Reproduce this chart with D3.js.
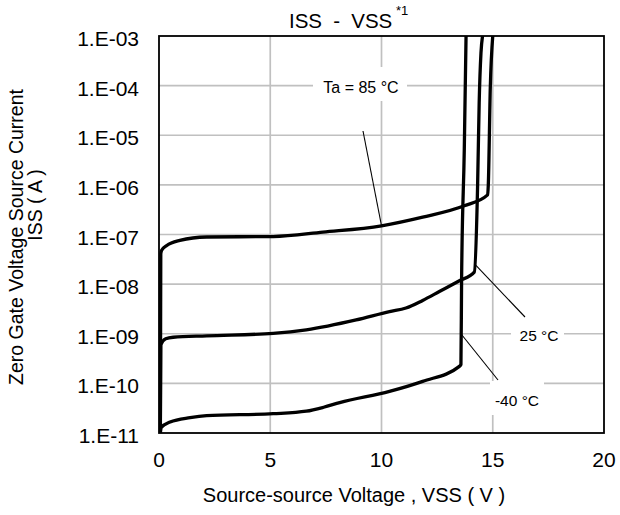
<!DOCTYPE html>
<html>
<head>
<meta charset="utf-8">
<script src="https://cdn.jsdelivr.net/npm/d3@7"></script>
<style>
  html, body { margin: 0; padding: 0; background: #fff; }
  svg { display: block; font-family: "Liberation Sans", Arial, sans-serif; }
</style>
</head>
<body>
<svg id="chart" width="620" height="515"></svg>
<script>
// ---- data ----
const xTicks = [0, 5, 10, 15, 20];
const yTicks = [1e-3, 1e-4, 1e-5, 1e-6, 1e-7, 1e-8, 1e-9, 1e-10, 1e-11];
const yTickLabels = ["1.E-03", "1.E-04", "1.E-05", "1.E-06", "1.E-07", "1.E-08", "1.E-09", "1.E-10", "1.E-11"];

const v85 = [0.06, 0.08, 0.12, 0.35, 0.94, 2.14, 5.13, 7.37, 10.0, 11.85, 13.72, 14.77, 14.8, 14.89, 15.0];
const i85 = [1e-11, 4.1e-8, 4.8e-8, 6.0e-8, 7.6e-8, 8.9e-8, 9.1e-8, 1.12e-7, 1.5e-7, 2.24e-7, 3.8e-7, 6.3e-7, 1.0e-6, 9.3e-5, 1e-3];

const v25 = [0.06, 0.08, 0.3, 0.64, 2.14, 5.13, 6.62, 8.86, 10.36, 11.1, 11.85, 12.6, 13.5, 14.17, 14.32, 14.39, 14.47, 14.54];
const i25 = [1e-11, 6.0e-10, 7.9e-10, 8.5e-10, 9.1e-10, 1.02e-9, 1.2e-9, 1.9e-9, 2.8e-9, 3.3e-9, 4.7e-9, 7.1e-9, 1.17e-8, 1.74e-8, 1.0e-6, 4.5e-5, 4.5e-4, 1e-3];

const v40 = [0.06, 0.1, 0.5, 1.4, 2.14, 5.13, 6.62, 7.4, 8.12, 10.36, 11.85, 13.5, 13.57, 13.6, 13.72, 13.8];
const i40 = [1e-11, 1.29e-11, 1.66e-11, 2.04e-11, 2.24e-11, 2.45e-11, 2.75e-11, 3.3e-11, 4.1e-11, 6.9e-11, 1.1e-10, 2.2e-10, 2.4e-10, 1.26e-8, 5.0e-6, 1e-3];

const seriesNames = ["Ta = 85 °C", "25 °C", "-40 °C"];

// ---- layout ----
const svg = d3.select("#chart");
const L = 159, R = 604, T = 36, B = 433;
const x = d3.scaleLinear().domain([0, 20]).range([L, R]);
const y = d3.scaleLog().domain([1e-11, 1e-3]).range([B, T]);

// gridlines
svg.append("g").selectAll("line.gx")
  .data(xTicks.slice(1, -1)).join("line")
  .attr("x1", d => x(d)).attr("x2", d => x(d))
  .attr("y1", T).attr("y2", B)
  .attr("stroke", "#c0c0c0").attr("stroke-width", 1.7);
svg.append("g").selectAll("line.gy")
  .data(yTicks.slice(1, -1)).join("line")
  .attr("x1", L).attr("x2", R)
  .attr("y1", d => y(d)).attr("y2", d => y(d))
  .attr("stroke", "#c0c0c0").attr("stroke-width", 1.7);

// annotation boxes (white, hide gridlines)
const boxes = [
  {x0: 313, x1: 407, y0: 67, y1: 101},
  {x0: 511, x1: 564, y0: 320, y1: 351},
  {x0: 490, x1: 544, y0: 381, y1: 415}
];
svg.append("g").selectAll("rect").data(boxes).join("rect")
  .attr("x", d => d.x0).attr("y", d => d.y0)
  .attr("width", d => d.x1 - d.x0).attr("height", d => d.y1 - d.y0)
  .attr("fill", "#fff");

// clip
svg.append("clipPath").attr("id", "clip").append("rect")
  .attr("x", L).attr("y", T).attr("width", R - L).attr("height", B - T);

const line = d3.line()
  .x(d => x(d[0])).y(d => y(d[1]))
  .curve(d3.curveMonotoneX);

const series = [
  d3.zip(v85, i85),
  d3.zip(v25, i25),
  d3.zip(v40, i40)
];
svg.append("g").attr("clip-path", "url(#clip)")
  .selectAll("path").data(series).join("path")
  .attr("d", line)
  .attr("fill", "none").attr("stroke", "#000")
  .attr("stroke-width", 3.3).attr("stroke-linejoin", "round");

// leader lines
const leaders = [
  {x1: 363, y1: 131, v: 10.0, i: 1.5e-7},
  {x1: 525, y1: 317, v: 14.17, i: 2.6e-8},
  {x1: 498, y1: 380, v: 13.57, i: 1.0e-9}
];
svg.append("g").selectAll("line").data(leaders).join("line")
  .attr("x1", d => d.x1).attr("y1", d => d.y1)
  .attr("x2", d => x(d.v)).attr("y2", d => y(d.i))
  .attr("stroke", "#000").attr("stroke-width", 1.1);

// labels
const labelPos = [
  {x: 361, y: 93, size: 16},
  {x: 539, y: 341, size: 15.5},
  {x: 517, y: 406, size: 15.5}
];
svg.append("g").selectAll("text").data(seriesNames).join("text")
  .attr("x", (d, k) => labelPos[k].x).attr("y", (d, k) => labelPos[k].y)
  .attr("text-anchor", "middle")
  .attr("font-size", (d, k) => labelPos[k].size)
  .attr("fill", "#000")
  .text(d => d);

// plot border
svg.append("rect").attr("x", L).attr("y", T)
  .attr("width", R - L).attr("height", B - T)
  .attr("fill", "none").attr("stroke", "#000").attr("stroke-width", 1.8);

// y tick labels
svg.append("g").selectAll("text").data(yTicks).join("text")
  .attr("x", 139).attr("y", d => y(d) + 10)
  .attr("text-anchor", "end").attr("font-size", 21)
  .text((d, k) => yTickLabels[k]);

// x tick labels
svg.append("g").selectAll("text").data(xTicks).join("text")
  .attr("x", d => x(d)).attr("y", 467)
  .attr("text-anchor", "middle").attr("font-size", 21)
  .text(d => d);

// title
svg.append("text").attr("x", 289).attr("y", 28).attr("font-size", 20.5)
  .attr("word-spacing", 5.5)
  .text("ISS - VSS");
svg.append("text").attr("x", 396).attr("y", 15).attr("font-size", 13).text("*1");

// x axis title
svg.append("text").attr("x", 354).attr("y", 502)
  .attr("text-anchor", "middle").attr("font-size", 20)
  .text("Source-source Voltage , VSS ( V )");

// y axis title
svg.append("text")
  .attr("transform", "translate(23,237) rotate(-90)")
  .attr("text-anchor", "middle").attr("font-size", 19.5)
  .text("Zero Gate Voltage Source Current");
svg.append("text")
  .attr("transform", "translate(42,205) rotate(-90)")
  .attr("text-anchor", "middle").attr("font-size", 19.5)
  .text("ISS ( A )");
</script>
</body>
</html>
